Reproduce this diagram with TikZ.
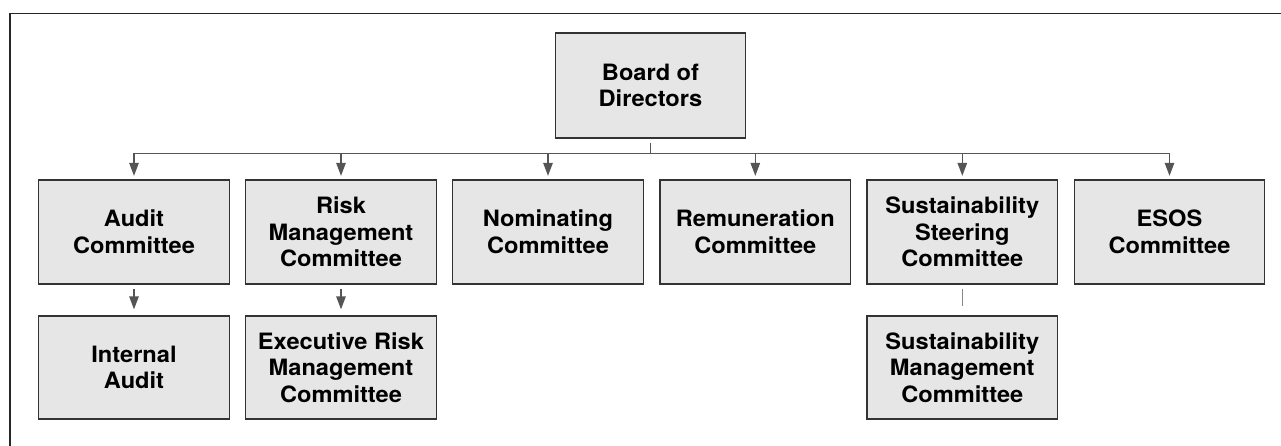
\documentclass[tikz,border=0pt]{standalone}
\usepackage{fontspec}
\setmainfont{TeX Gyre Heros}[FakeStretch=1.05]
\usetikzlibrary{arrows.meta}
\definecolor{boxfill}{HTML}{E6E6E6}
\definecolor{boxline}{HTML}{333333}
\definecolor{conn}{HTML}{555555}
\definecolor{connlight}{HTML}{888888}
\tikzset{
  orgbox/.style={draw=boxline, line width=1.3pt, fill=boxfill, minimum width=190.5pt,
    minimum height=104pt, inner sep=0pt, align=center,
    font=\fontsize{22.5pt}{26.5pt}\selectfont\bfseries},
  link/.style={draw=conn, line width=1.3pt},
  arrowlink/.style={link, -{Triangle[width=9.5pt,length=13pt]}},
  plainlink/.style={draw=connlight, line width=1.3pt},
  frameline/.style={draw=black!85, line width=1.3pt}
}
\begin{document}
\begin{tikzpicture}[x=1pt,y=1pt]
\useasboundingbox (0,0) rectangle (1281,-446);
% frame
\coordinate (fTL) at (10,-13.5);
\coordinate (fTR) at (1281,-13.5);
\coordinate (fBL) at (10,-446);
\draw[frameline] (fTR) -- (fTL) -- (fBL);
% nodes
\node[orgbox, minimum height=105pt] (board) at (650.5,-85.5) {Board of\\Directors};
\node[orgbox] (audit) at (134,-232) {Audit\\Committee};
\node[orgbox] (risk) at (341,-232) {Risk\\Management\\Committee};
\node[orgbox] (nom) at (548,-232) {Nominating\\Committee};
\node[orgbox] (rem) at (755.3,-232) {Remuneration\\Committee};
\node[orgbox] (sust) at (962.3,-232) {Sustainability\\Steering\\Committee};
\node[orgbox] (esos) at (1169.5,-232) {ESOS\\Committee};
\node[orgbox, minimum height=103pt] (ia) at (134,-367.5) {Internal\\Audit};
\node[orgbox, minimum height=103pt] (erm) at (341,-367.5) {Executive Risk\\Management\\Committee};
\node[orgbox, minimum height=103pt] (smc) at (962.3,-367.5) {Sustainability\\Management\\Committee};
% bus
\coordinate (bus) at (651,-153.5);
\draw[link] ([yshift=-4pt]board.south) -- (board.south |- bus);
\draw[link] (audit.north |- bus) -- (esos.north |- bus);
\foreach \n in {audit,risk,nom,rem,sust,esos}{
  \draw[arrowlink] (\n.north |- bus) -- ([yshift=3.5pt]\n.north);
}
% second row
\draw[arrowlink] ([yshift=-4pt]audit.south) -- ([yshift=6pt]ia.north);
\draw[arrowlink] ([yshift=-4pt]risk.south) -- ([yshift=6pt]erm.north);
\draw[plainlink] ([yshift=-4pt]sust.south) -- ([yshift=9pt]smc.north);
\end{tikzpicture}
\end{document}
